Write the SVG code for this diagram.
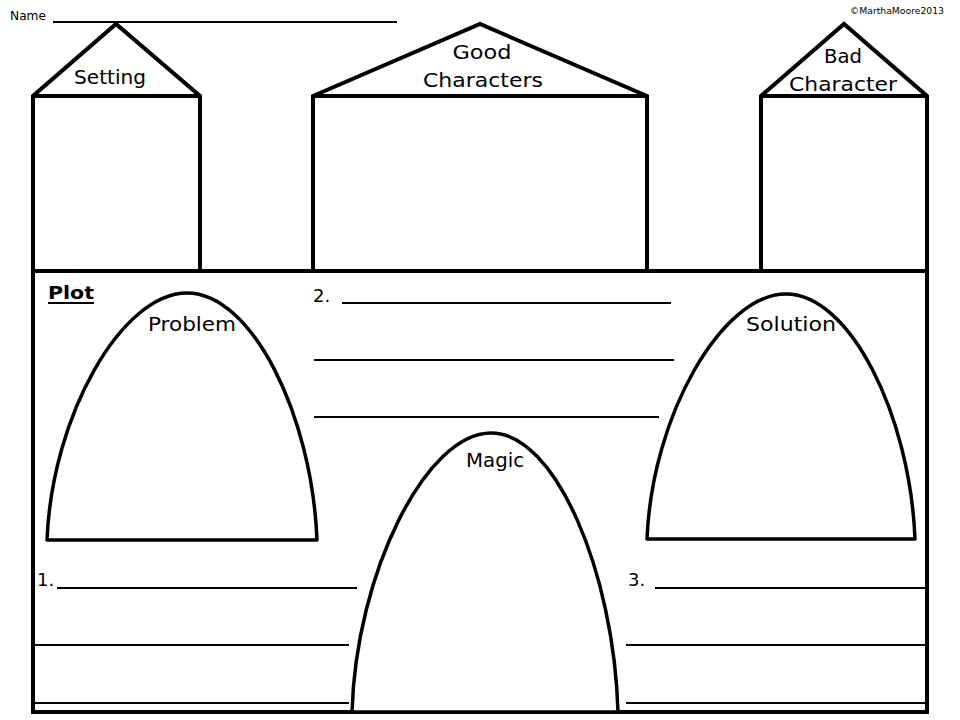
<svg xmlns="http://www.w3.org/2000/svg" width="960" height="720" viewBox="0 0 960 720">
<style>
.bold{fill:none;stroke:#000;stroke-width:4;stroke-linejoin:miter}
.arch{fill:#fff;stroke:#000;stroke-width:3.5;stroke-linejoin:round}
.rule{stroke:#000;stroke-width:2}
.lbl{font-family:"DejaVu Sans",sans-serif;font-size:20px;fill:#000;text-anchor:middle}
.num{font-family:"DejaVu Sans",sans-serif;font-size:18px;fill:#000}
.small{font-family:"DejaVu Sans",sans-serif;fill:#000}
</style>
<rect width="960" height="720" fill="#fff"/>
<g id="header">
<text class="small" x="10" y="20" font-size="12" textLength="36" lengthAdjust="spacingAndGlyphs">Name</text>
<line class="rule" x1="53" y1="22" x2="397" y2="22" stroke-width="1.5"/>
<text class="small" x="850" y="14" font-size="9" textLength="94" lengthAdjust="spacingAndGlyphs">©MarthaMoore2013</text>
</g>
<g id="setting">
<path class="bold" d="M33,271 V96 L116,24 L200,96 V271 M33,96 H200"/>
<text class="lbl" x="110" y="84" textLength="72" lengthAdjust="spacingAndGlyphs">Setting</text>
</g>
<g id="good-characters">
<path class="bold" d="M313,271 V96 L480,24 L647,96 V271 M313,96 H647"/>
<text class="lbl" x="482" y="59" textLength="59" lengthAdjust="spacingAndGlyphs">Good</text>
<text class="lbl" x="483" y="87" textLength="120" lengthAdjust="spacingAndGlyphs">Characters</text>
</g>
<g id="bad-character">
<path class="bold" d="M761,271 V96 L844,24 L927,96 V271 M761,96 H927"/>
<text class="lbl" x="843" y="63" textLength="38" lengthAdjust="spacingAndGlyphs">Bad</text>
<text class="lbl" x="843" y="91" textLength="108" lengthAdjust="spacingAndGlyphs">Character</text>
</g>
<g id="plot">
<rect class="bold" x="33" y="271" width="894" height="441"/>
<text x="48" y="299" font-family="DejaVu Sans,sans-serif" font-weight="bold" font-size="18" textLength="46" lengthAdjust="spacingAndGlyphs">Plot</text>
<line class="rule" x1="48" y1="303" x2="94" y2="303"/>
</g>
<g id="lines-2">
<text class="num" x="313" y="302">2.</text>
<line class="rule" x1="342" y1="303" x2="671" y2="303"/>
<line class="rule" x1="314" y1="360" x2="674" y2="360"/>
<line class="rule" x1="314" y1="417" x2="659" y2="417"/>
</g>
<g id="lines-1">
<text class="num" x="37" y="586">1.</text>
<line class="rule" x1="57" y1="588" x2="357" y2="588"/>
<line class="rule" x1="34" y1="645" x2="349" y2="645"/>
<line class="rule" x1="34" y1="703" x2="349" y2="703"/>
</g>
<g id="lines-3">
<text class="num" x="628" y="586">3.</text>
<line class="rule" x1="655" y1="588" x2="925" y2="588"/>
<line class="rule" x1="626" y1="645" x2="926" y2="645"/>
<line class="rule" x1="626" y1="703" x2="926" y2="703"/>
</g>
<g id="problem">
<path class="arch" d="M47,540 C52,415 122,293 187,293 C252,293 312,415 317,540 Z"/>
<text class="lbl" x="192" y="331" textLength="88" lengthAdjust="spacingAndGlyphs">Problem</text>
</g>
<g id="solution">
<path class="arch" d="M647,539 C652,415 722,294 786,294 C850,294 910,415 915,539 Z"/>
<text class="lbl" x="791" y="331" textLength="90" lengthAdjust="spacingAndGlyphs">Solution</text>
</g>
<g id="magic">
<path class="arch" d="M352,712 C356,573 426,433 491,433 C556,433 614,573 618,712 Z"/>
<text class="lbl" x="495" y="467" textLength="58" lengthAdjust="spacingAndGlyphs">Magic</text>
</g>
</svg>
